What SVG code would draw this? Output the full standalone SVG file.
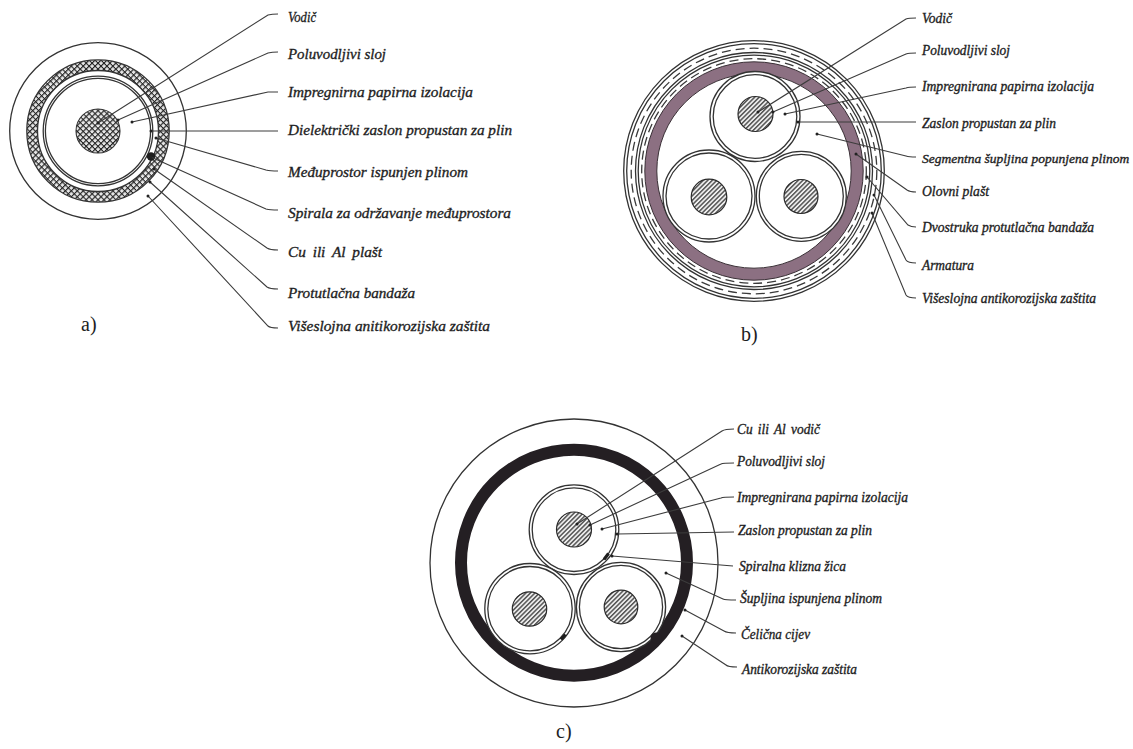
<svg xmlns="http://www.w3.org/2000/svg" width="1133" height="749" viewBox="0 0 1133 749">
<style>
text{font-family:"Liberation Serif","Times New Roman",serif;fill:#1d1d22}
.l{font-style:italic;font-size:14px;stroke:#1d1d22;stroke-width:.35px}
#labels-a .l{font-size:15.500px}
.t{font-size:20px}
.r{fill:none;stroke:#333;stroke-width:1.3}
.w{fill:#fff;stroke:#333;stroke-width:1.3}
.d{fill:none;stroke:#3a3a3a;stroke-width:1.3;stroke-dasharray:9 5}
.c{fill:url(#hatch);stroke:#2a2a2a;stroke-width:1.2}
#leaders path{fill:none;stroke:#3c3c3c;stroke-width:1.1;marker-start:url(#dot)}
</style>
<defs>
<pattern id="hatch" width="3.2" height="3.2" patternUnits="userSpaceOnUse" patternTransform="rotate(-45)"><rect width="3.2" height="3.2" fill="#eee"/><rect width="3.2" height="1.5" fill="#555"/></pattern>
<pattern id="cross" width="4.2" height="4.2" patternUnits="userSpaceOnUse" patternTransform="rotate(45)"><rect width="4.2" height="4.2" fill="#e6e6e6"/><path d="M0 0H4.2M0 0V4.2" stroke="#222" stroke-width="2.300" fill="none"/></pattern>
<marker id="dot" markerUnits="userSpaceOnUse" markerWidth="4" markerHeight="4" refX="2" refY="2"><circle cx="2" cy="2" r="1.5" fill="#222"/></marker>
</defs>
<rect width="1133" height="749" fill="#fff"/>

<g id="cable-a">
<circle class="r" cx="98" cy="131" r="88.3"/>
<circle cx="98" cy="131" r="65.8" fill="none" stroke="url(#cross)" stroke-width="10.6"/>
<circle class="r" cx="98" cy="131" r="71.2"/>
<circle class="r" cx="98" cy="131" r="60.5"/>
<circle class="r" cx="98" cy="131" r="54.8"/>
<circle class="r" cx="98" cy="131" r="52.6"/>
<circle cx="98" cy="131" r="22" fill="url(#cross)" stroke="#333" stroke-width="1.1"/>
<circle cx="151" cy="156.500" r="4.200" fill="#1e1e1e"/>
</g>

<g id="cable-b">
<circle class="r" cx="754" cy="171" r="130.300"/>
<circle class="r" cx="754" cy="171" r="127.300"/>
<circle class="d" cx="754" cy="171" r="122.800"/>
<circle class="r" cx="754" cy="171" r="118.500"/>
<circle class="r" cx="754" cy="171" r="115.800"/>
<circle class="d" cx="754" cy="171" r="112.300"/>
<circle cx="754" cy="171" r="103.200" fill="none" stroke="#8c7082" stroke-width="12"/>
<circle cx="754" cy="171" r="109.200" fill="none" stroke="#3a3036" stroke-width="1"/>
<circle cx="754" cy="171" r="97.200" fill="none" stroke="#3a3036" stroke-width="1"/>
<circle class="w" cx="755" cy="116.500" r="45"/><circle class="r" cx="755" cy="116.500" r="41.800"/>
<circle class="c" cx="755.500" cy="114" r="17.500"/>
<circle class="w" cx="709" cy="196" r="46"/><circle class="r" cx="709" cy="196" r="43"/>
<circle class="c" cx="709" cy="197" r="17.800"/>
<circle class="w" cx="801.300" cy="196.300" r="45"/><circle class="r" cx="801.300" cy="196.300" r="42"/>
<circle class="c" cx="801" cy="196.500" r="17"/>
</g>

<g id="cable-c">
<circle class="r" cx="574" cy="563" r="144"/>
<circle cx="574" cy="562.700" r="113" fill="none" stroke="#241f23" stroke-width="12"/>
<circle class="w" cx="574" cy="529.700" r="44.800"/><circle class="r" cx="574" cy="529.700" r="41.800"/>
<circle class="c" cx="574" cy="529.500" r="17.500"/>
<circle class="w" cx="530" cy="608.700" r="45.200"/><circle class="r" cx="530" cy="608.700" r="42.200"/>
<circle class="c" cx="529.500" cy="609" r="17.200"/>
<circle class="w" cx="621" cy="607" r="44.600"/><circle class="r" cx="621" cy="607" r="41.600"/>
<circle class="c" cx="621" cy="607" r="16.800"/>
<path d="M604 559.500L608.500 553.500" stroke="#1e1e1e" stroke-width="3.200" fill="none"/>
<path d="M561 639.500L565.500 634.500" stroke="#1e1e1e" stroke-width="3.200" fill="none"/>
<circle cx="656" cy="638" r="5.500" fill="#241f23"/>
</g>

<g id="leaders">
<path d="M98 123L268 15Q272 14 278 14"/>
<path d="M118 120L268 53Q272 52 278 52"/>
<path d="M132 122L268 92Q272 92 278 92"/>
<path d="M151 131L278 131"/>
<path d="M156 138L266 170Q270 171 278 171"/>
<path d="M151 157L266 209Q270 210 278 210"/>
<path d="M154 169L267 248Q270 250 278 250"/>
<path d="M150 182L267 287Q270 289 278 289"/>
<path d="M148 196L268 326Q270 328 278 328"/>

<path d="M758 112L906 19Q909 18 916 18"/>
<path d="M773 112L906 54Q909 53 916 53"/>
<path d="M785 114L906 88Q909 87 916 87"/>
<path d="M798 122L916 122"/>
<path d="M817 134L906 156Q909 157 916 157"/>
<path d="M856 154L907 190Q910 192 916 192"/>
<path d="M867 177L908 225Q911 227 916 227"/>
<path d="M874 195L906 260Q908 263 916 263"/>
<path d="M872 213L906 295Q908 298 916 298"/>

<path d="M577 524L722 431Q725 429 734 429"/>
<path d="M590 525L721 464Q723 463 734 463"/>
<path d="M602 529L721 498Q723 497 734 497"/>
<path d="M617 534L734 532"/>
<path d="M612 556L733 566"/>
<path d="M666 573L723 599Q725 600 736 600"/>
<path d="M685 610L724 631Q727 633 736 633"/>
<path d="M682 636L726 665Q728 667 737 667"/>
</g>

<g id="labels-a">
<g id="a1"><text class="l" x="288" y="22" textLength="28" lengthAdjust="spacingAndGlyphs">Vodič</text></g>
<g id="a2"><text class="l" x="288" y="59" textLength="98" lengthAdjust="spacingAndGlyphs">Poluvodljivi sloj</text></g>
<g id="a3"><text class="l" x="288" y="97" textLength="185" lengthAdjust="spacingAndGlyphs">Impregnirna papirna izolacija</text></g>
<g id="a4"><text class="l" x="288" y="135" textLength="224" lengthAdjust="spacingAndGlyphs">Dielektrički zaslon propustan za plin</text></g>
<g id="a5"><text class="l" x="288" y="177" textLength="180" lengthAdjust="spacingAndGlyphs">Međuprostor ispunjen plinom</text></g>
<g id="a6"><text class="l" x="288" y="218" textLength="223" lengthAdjust="spacingAndGlyphs">Spirala za održavanje međuprostora</text></g>
<g id="a7"><text class="l" x="288" y="257" word-spacing="3" textLength="94" lengthAdjust="spacingAndGlyphs">Cu ili Al plašt</text></g>
<g id="a8"><text class="l" x="288" y="298" textLength="127" lengthAdjust="spacingAndGlyphs">Protutlačna bandaža</text></g>
<g id="a9"><text class="l" x="288" y="331" textLength="202" lengthAdjust="spacingAndGlyphs">Višeslojna anitikorozijska zaštita</text></g>
<g id="a-title"><text class="t" x="81" y="331">a)</text></g>
</g>

<g id="labels-b">
<g id="b1"><text class="l" x="922" y="23" textLength="30" lengthAdjust="spacingAndGlyphs">Vodič</text></g>
<g id="b2"><text class="l" x="922" y="55" textLength="88" lengthAdjust="spacingAndGlyphs">Poluvodljivi sloj</text></g>
<g id="b3"><text class="l" x="922" y="91" textLength="172" lengthAdjust="spacingAndGlyphs">Impregnirana papirna izolacija</text></g>
<g id="b4"><text class="l" x="922" y="128" textLength="134" lengthAdjust="spacingAndGlyphs">Zaslon propustan za plin</text></g>
<g id="b5"><text class="l" x="922" y="163" style="font-size:13.500px">Segmentna šupljina popunjena plinom</text></g>
<g id="b6"><text class="l" x="922" y="196" textLength="67" lengthAdjust="spacingAndGlyphs">Olovni plašt</text></g>
<g id="b7"><text class="l" x="922" y="232" textLength="172" lengthAdjust="spacingAndGlyphs">Dvostruka protutlačna bandaža</text></g>
<g id="b8"><text class="l" x="922" y="270" textLength="52" lengthAdjust="spacingAndGlyphs">Armatura</text></g>
<g id="b9"><text class="l" x="922" y="303" textLength="174" lengthAdjust="spacingAndGlyphs">Višeslojna antikorozijska zaštita</text></g>
<g id="b-title"><text class="t" x="741" y="341">b)</text></g>
</g>

<g id="labels-c">
<g id="c1"><text class="l" x="737" y="434" word-spacing="2" textLength="83" lengthAdjust="spacingAndGlyphs">Cu ili Al vodič</text></g>
<g id="c2"><text class="l" x="737" y="466" textLength="88" lengthAdjust="spacingAndGlyphs">Poluvodljivi sloj</text></g>
<g id="c3"><text class="l" x="737" y="502" textLength="171" lengthAdjust="spacingAndGlyphs">Impregnirana papirna izolacija</text></g>
<g id="c4"><text class="l" x="738" y="535" textLength="134" lengthAdjust="spacingAndGlyphs">Zaslon propustan za plin</text></g>
<g id="c5"><text class="l" x="739" y="571" textLength="107" lengthAdjust="spacingAndGlyphs">Spiralna klizna žica</text></g>
<g id="c6"><text class="l" x="740" y="603" textLength="142" lengthAdjust="spacingAndGlyphs">Šupljina ispunjena plinom</text></g>
<g id="c7"><text class="l" x="741" y="639" textLength="69" lengthAdjust="spacingAndGlyphs">Čelična cijev</text></g>
<g id="c8"><text class="l" x="742" y="674" textLength="115" lengthAdjust="spacingAndGlyphs">Antikorozijska zaštita</text></g>
<g id="c-title"><text class="t" x="556" y="738">c)</text></g>
</g>
</svg>
